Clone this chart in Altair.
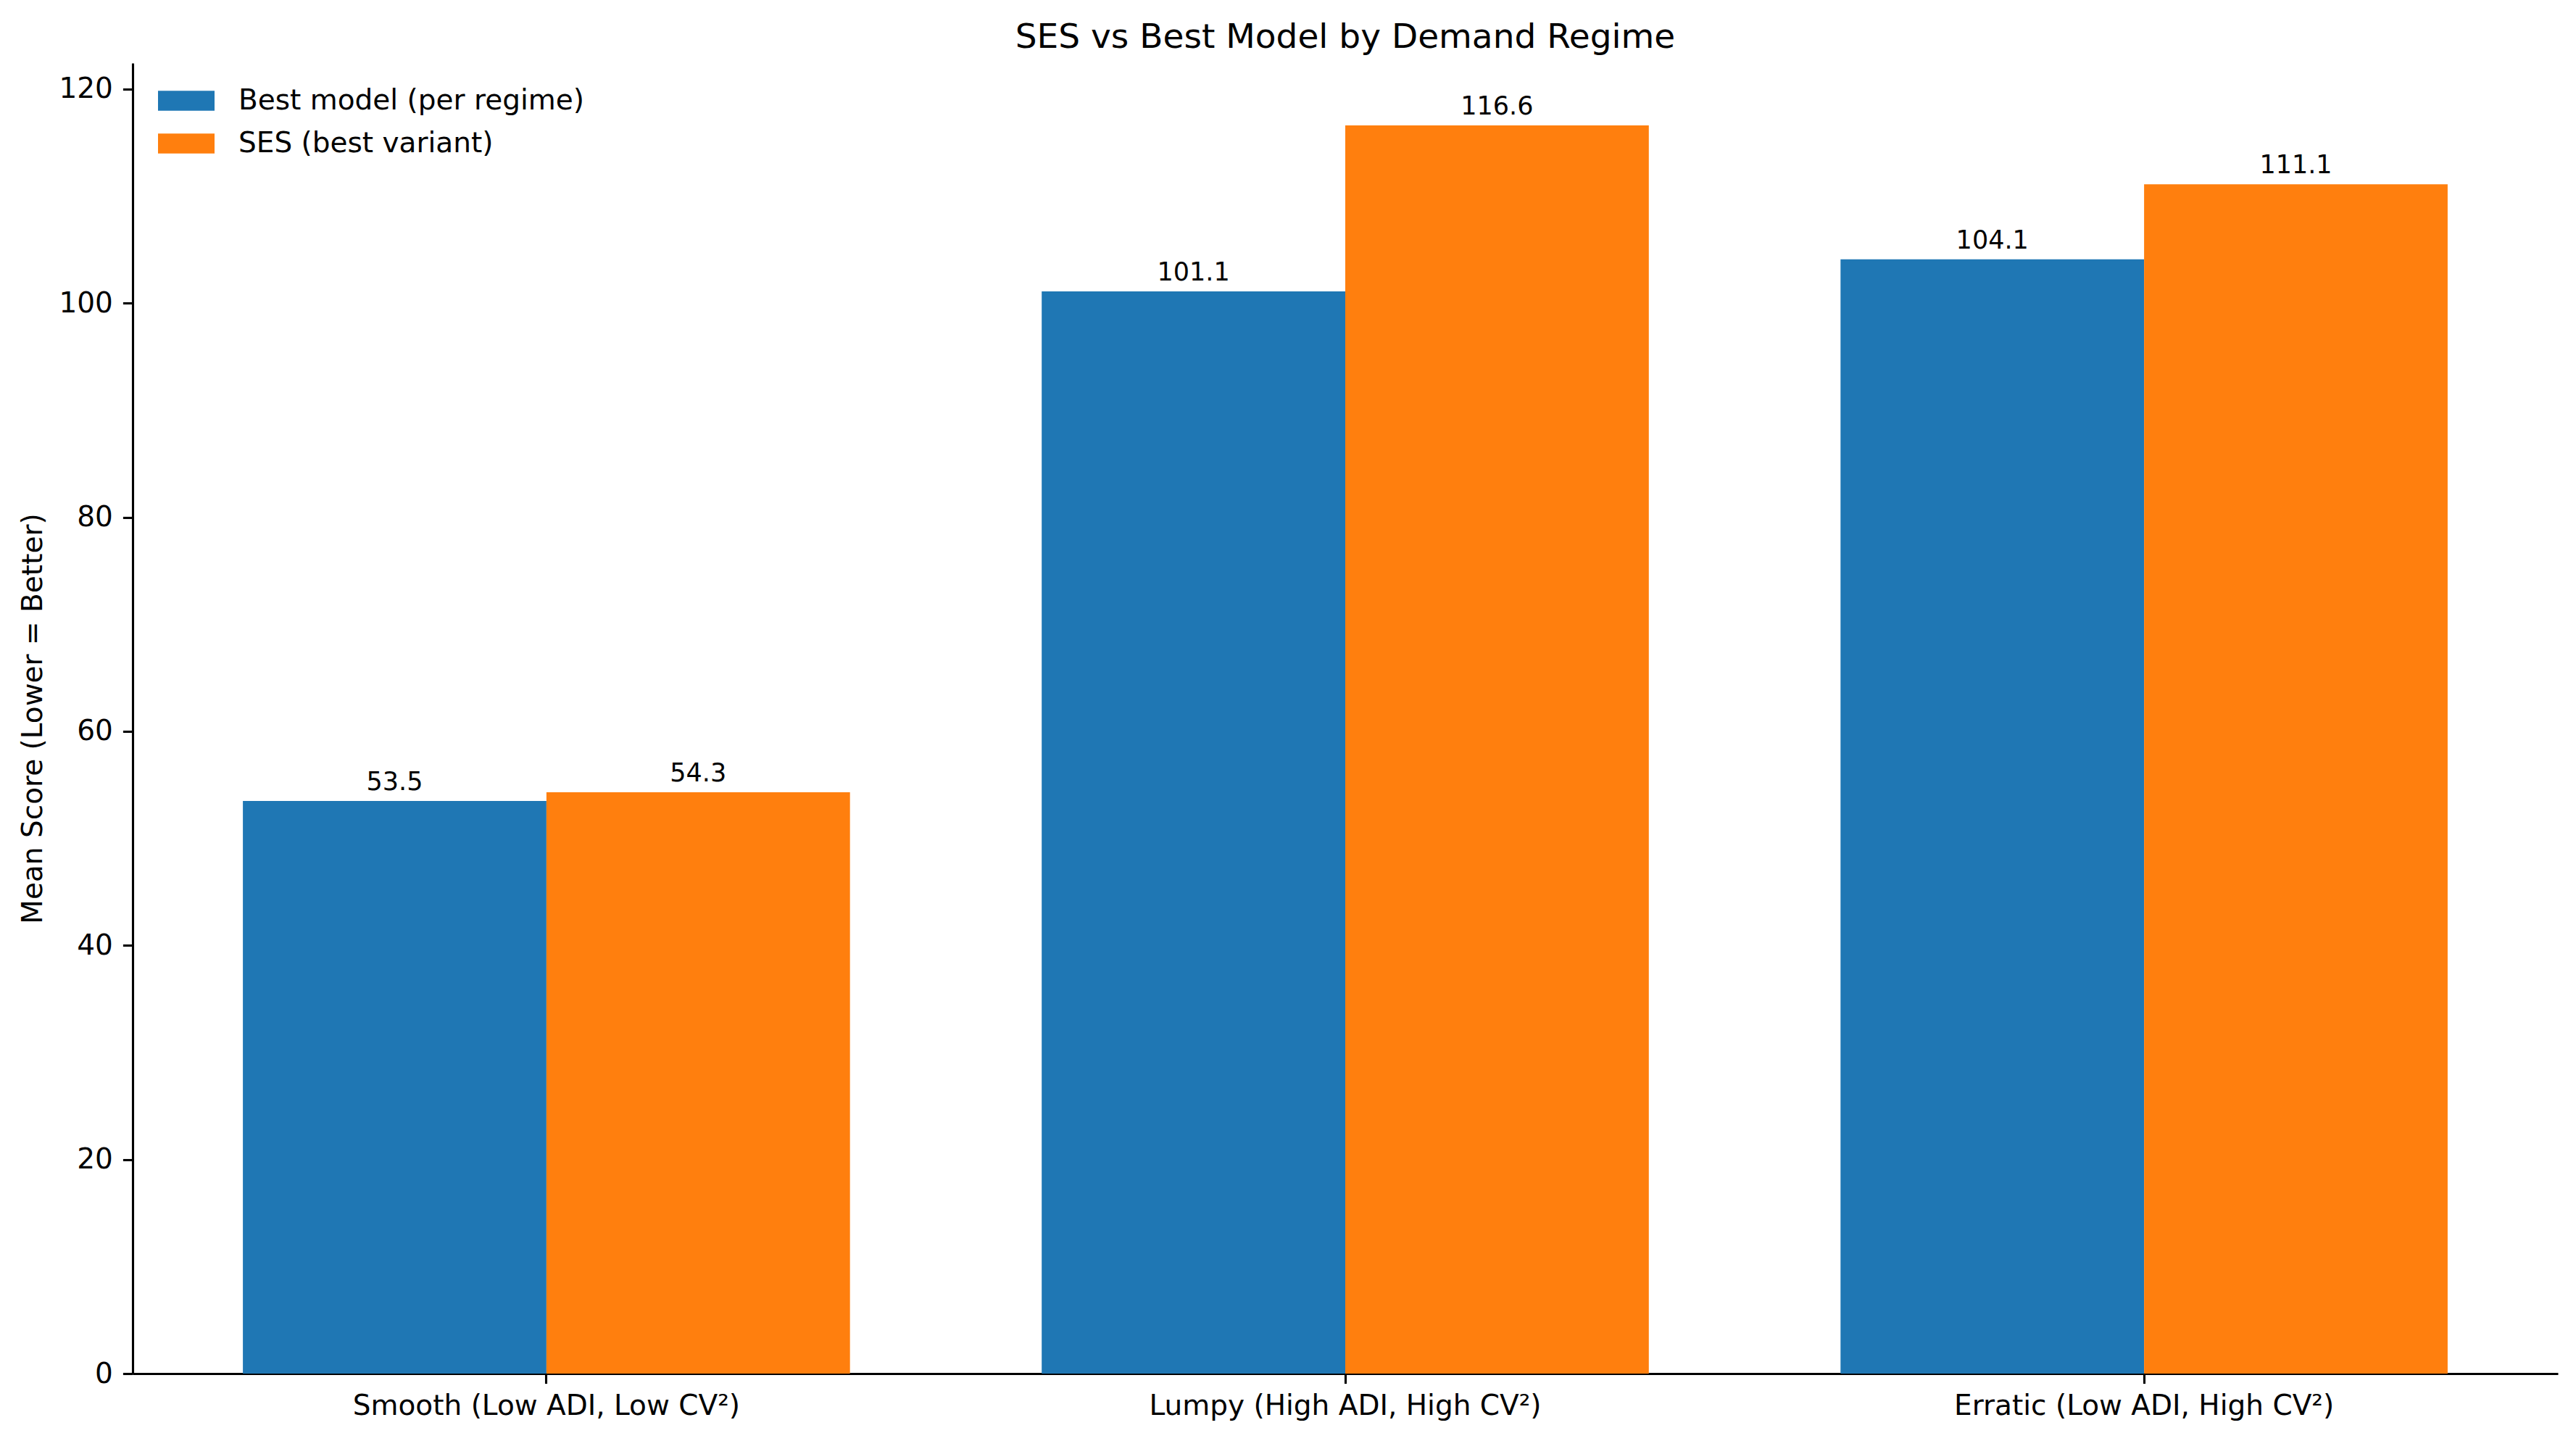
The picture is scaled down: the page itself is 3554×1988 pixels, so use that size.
import altair as alt
import pandas as pd

regimes = ["Smooth (Low ADI, Low CV²)", "Lumpy (High ADI, High CV²)", "Erratic (Low ADI, High CV²)"]
series = ["Best model (per regime)", "SES (best variant)"]
best_scores = [53.5, 101.1, 104.1]
ses_scores = [54.3, 116.6, 111.1]
colors = ["#1f77b4", "#ff7f0e"]
y_ticks = [0, 20, 40, 60, 80, 100, 120]

rows = []
for r, b, s in zip(regimes, best_scores, ses_scores):
    rows.append({"regime": r, "series": series[0], "score": b, "label": f"{b:.1f}"})
    rows.append({"regime": r, "series": series[1], "score": s, "label": f"{s:.1f}"})
df = pd.DataFrame(rows)

FONT = "DejaVu Sans"
AX = dict(
    domainColor="black",
    domainWidth=3.1,
    tickColor="black",
    tickWidth=3.1,
    tickSize=13.6,
    labelColor="black",
    titleColor="black",
    labelFont=FONT,
    titleFont=FONT,
    labelFontSize=39,
    labelLimit=0,
    grid=False,
)

x = alt.X(
    "regime:N",
    sort=regimes,
    scale=alt.Scale(paddingInner=0.24, paddingOuter=0.138),
    axis=alt.Axis(title=None, labelAngle=0, labelPadding=12, **AX),
)
xo = alt.XOffset("series:N", sort=series, scale=alt.Scale(paddingInner=0, paddingOuter=0))
y = alt.Y(
    "score:Q",
    scale=alt.Scale(domain=[0, 122.43], nice=False, zero=True),
    axis=alt.Axis(
        title="Mean Score (Lower = Better)",
        values=y_ticks,
        titleFontSize=39,
        titleFontWeight="normal",
        titlePadding=15,
        labelPadding=14,
        **AX,
    ),
)

bars = alt.Chart(df).mark_bar().encode(
    x=x,
    xOffset=xo,
    y=y,
    color=alt.Color(
        "series:N",
        sort=series,
        scale=alt.Scale(domain=series, range=colors),
        legend=alt.Legend(
            title=None,
            orient="none",
            legendX=35,
            legendY=13,
            symbolType="M-1,-0.35H1V0.35H-1Z",
            symbolSize=6084,
            symbolStrokeWidth=0,
            symbolOpacity=1,
            labelFontSize=39,
            labelOffset=33,
            labelLimit=0,
            rowPadding=0,
            padding=0,
            labelFont=FONT,
            labelColor="black",
        ),
    ),
)

labels = alt.Chart(df).mark_text(
    baseline="alphabetic", dy=-15, fontSize=35, font=FONT, color="black"
).encode(
    x=alt.X("regime:N", sort=regimes),
    xOffset=alt.XOffset("series:N", sort=series),
    y=alt.Y("score:Q"),
    text="label:N",
)

chart = (
    alt.layer(bars, labels)
    .properties(
        width=3346,
        height=1808,
        background="white",
        title=alt.TitleParams(
            "SES vs Best Model by Demand Regime",
            fontSize=47,
            fontWeight="normal",
            font=FONT,
            color="black",
            offset=11,
        ),
        autosize=alt.AutoSizeParams(type="none"),
        padding={"left": 175, "top": 79, "right": 17, "bottom": 85},
    )
    .configure_view(strokeOpacity=0, strokeWidth=0)
)

chart.save("out.html", embed_options={"renderer": "svg", "actions": False})
